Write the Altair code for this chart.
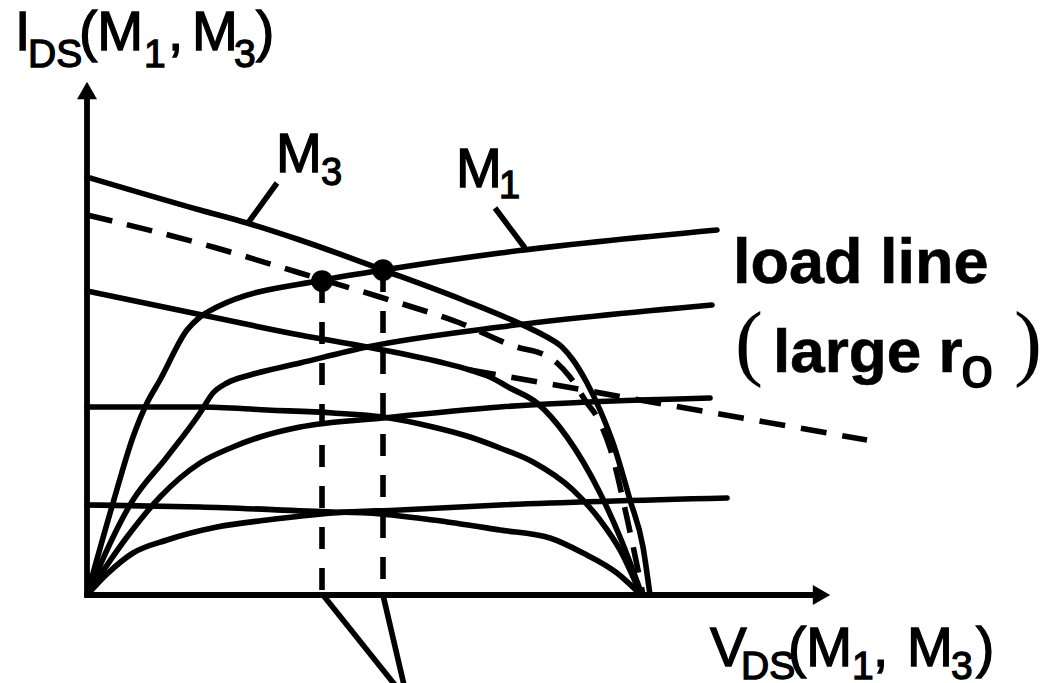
import altair as alt
import pandas as pd

# ---- I-V characteristics (V_DS to the right, I_DS upward, origin at the axes corner)
# M1 (driver) curves: rise from the origin, then saturate with a slight upward slope
m1_a_v = [0, 26, 46, 60, 73, 100, 113, 130, 236, 296, 413, 630]
m1_a_i = [0, 92, 158, 192, 215, 265, 278, 288, 315, 325, 342, 365]
m1_b_v = [0, 46, 80, 113, 126, 140, 163, 213, 280, 413, 625]
m1_b_i = [0, 95, 138, 182, 202, 212, 220, 232, 248, 268, 290]
m1_c_v = [0, 40, 73, 113, 146, 173, 213, 296, 413, 623]
m1_c_i = [0, 58, 98, 132, 148, 158, 168, 177, 188, 197]
m1_d_v = [0, 20, 46, 80, 130, 180, 246, 313, 413, 640]
m1_d_i = [0, 21, 42, 55, 68, 75, 82, 85, 90, 97]

# M3 (load) curves: fall slowly from the I axis, then drop to the supply voltage
m3_a_v = [0, 113, 160, 213, 296, 376, 440, 460, 475, 486, 500, 513, 526, 543, 556, 563]
m3_a_i = [418, 385, 372, 355, 325, 295, 268, 258, 248, 235, 212, 185, 152, 95, 48, 0]
m3_b_v = [0, 120, 213, 280, 353, 383, 403, 423, 450, 480, 513, 533, 555]
m3_b_i = [304, 279, 260, 248, 233, 225, 218, 207, 192, 158, 102, 58, 0]
m3_c_v = [0, 113, 180, 246, 296, 346, 383, 413, 446, 486, 513, 533, 554]
m3_c_i = [188, 188, 185, 182, 178, 168, 158, 147, 133, 105, 75, 45, 0]
m3_d_v = [0, 113, 246, 280, 346, 413, 463, 496, 530, 554]
m3_d_i = [90, 88, 83, 82, 75, 65, 57, 42, 22, 0]

# load line (dashed)
load_v = [0, 126, 213, 293, 373, 433, 453, 470, 483, 500, 510, 523, 540, 556]
load_i = [380, 348, 322, 298, 272, 247, 242, 232, 218, 192, 178, 147, 77, 0]
# large-r_o load line (dashed, straight)
large_ro_v = [383, 780]
large_ro_i = [225, 155]

# operating points
op_v = [235, 296]
op_i = [314, 325]

# axis extents
v_axis_end = 727
v_arrow_tip = 743
i_axis_end = 500
i_arrow_tip = 513

x_scale = alt.Scale(domain=[-87, 959], nice=False, zero=False)
y_scale = alt.Scale(domain=[-88, 595], nice=False, zero=False)


def X(field="v"):
    return alt.X(f"{field}:Q", scale=x_scale, axis=None)


def Y(field="i"):
    return alt.Y(f"{field}:Q", scale=y_scale, axis=None)


def curves_frame(curves):
    rows = []
    for name, vs, is_ in curves:
        for k, (v, i) in enumerate(zip(vs, is_)):
            rows.append({"curve": name, "k": k, "v": v, "i": i})
    return pd.DataFrame(rows)


solid = curves_frame([
    ("M1a", m1_a_v, m1_a_i), ("M1b", m1_b_v, m1_b_i),
    ("M1c", m1_c_v, m1_c_i), ("M1d", m1_d_v, m1_d_i),
    ("M3a", m3_a_v, m3_a_i), ("M3b", m3_b_v, m3_b_i),
    ("M3c", m3_c_v, m3_c_i), ("M3d", m3_d_v, m3_d_i),
])

ink = "#000000"
lw = 5.6

curve_layer = alt.Chart(solid).mark_line(
    color=ink, strokeWidth=lw, interpolate="monotone", strokeJoin="round", strokeCap="round"
).encode(x=X(), y=Y(), detail="curve:N", order="k:Q")

load_df = curves_frame([("load", load_v, load_i)])
load_layer = alt.Chart(load_df).mark_line(
    color=ink, strokeWidth=lw, interpolate="monotone", strokeDash=[26, 15]
).encode(x=X(), y=Y(), detail="curve:N", order="k:Q")

ro_df = curves_frame([("ro", large_ro_v, large_ro_i)])
ro_layer = alt.Chart(ro_df).mark_line(
    color=ink, strokeWidth=lw, strokeDash=[26, 16]
).encode(x=X(), y=Y(), order="k:Q")

# straight segments: axes, label pointers, leaders below the V axis
segs = pd.DataFrame([
    {"v": 0, "i": 0, "v2": 0, "i2": i_axis_end},
    {"v": -2.8, "i": 0, "v2": v_axis_end, "i2": 0},
])
axes_layer = alt.Chart(segs).mark_rule(color=ink, strokeWidth=5.8).encode(
    x=X(), y=Y(), x2="v2:Q", y2="i2:Q")

pointers = pd.DataFrame([
    {"v": 161, "i": 372, "v2": 190, "i2": 412},
    {"v": 438, "i": 347, "v2": 408, "i2": 387},
    {"v": 236, "i": 0, "v2": 308, "i2": -90},
    {"v": 296, "i": 0, "v2": 317, "i2": -90},
])
pointer_layer = alt.Chart(pointers).mark_rule(color=ink, strokeWidth=lw).encode(
    x=X(), y=Y(), x2="v2:Q", y2="i2:Q")

# projections of the operating points onto the V axis
proj = pd.DataFrame({"v": op_v, "i": op_i, "i0": [0, 0]})
proj_layer = alt.Chart(proj).mark_rule(
    color=ink, strokeWidth=lw, strokeDash=[22, 19]
).encode(x=X(), y=Y(), y2="i0:Q")

dots = pd.DataFrame({"v": op_v, "i": op_i})
dot_layer = alt.Chart(dots).mark_point(
    filled=True, color=ink, size=470, opacity=1, shape="circle"
).encode(x=X(), y=Y())

arrow_up = alt.Chart(pd.DataFrame({"v": [0], "i": [i_arrow_tip - 8.5]})).mark_point(
    filled=True, color=ink, size=400, opacity=1, shape="triangle-up"
).encode(x=X(), y=Y())
arrow_right = alt.Chart(pd.DataFrame({"v": [v_arrow_tip - 8.5], "i": [0]})).mark_point(
    filled=True, color=ink, size=400, opacity=1, shape="triangle-right"
).encode(x=X(), y=Y())

# ---- text
labels = pd.DataFrame([
    # I_DS(M1, M3)
    {"v": -72, "i": 545, "t": "I", "s": 55, "w": "normal"},
    {"v": -59, "i": 528, "t": "DS", "s": 39, "w": "normal"},
    {"v": -8, "i": 545, "t": "(M", "s": 55, "w": "normal"},
    {"v": 57, "i": 528, "t": "1", "s": 39, "w": "normal"},
    {"v": 81, "i": 545, "t": ",", "s": 55, "w": "normal"},
    {"v": 105, "i": 545, "t": "M", "s": 55, "w": "normal"},
    {"v": 147, "i": 528, "t": "3", "s": 39, "w": "normal"},
    {"v": 169, "i": 545, "t": ")", "s": 55, "w": "normal"},
    # V_DS(M1, M3)
    {"v": 623, "i": -71, "t": "V", "s": 55, "w": "normal"},
    {"v": 654, "i": -84, "t": "DS", "s": 39, "w": "normal"},
    {"v": 701, "i": -71, "t": "(M", "s": 55, "w": "normal"},
    {"v": 765, "i": -84, "t": "1", "s": 39, "w": "normal"},
    {"v": 786, "i": -71, "t": ",", "s": 55, "w": "normal"},
    {"v": 820, "i": -71, "t": "M", "s": 55, "w": "normal"},
    {"v": 864, "i": -84, "t": "3", "s": 39, "w": "normal"},
    {"v": 889, "i": -71, "t": ")", "s": 55, "w": "normal"},
    # curve names
    {"v": 189, "i": 423, "t": "M", "s": 55, "w": "normal"},
    {"v": 234, "i": 410, "t": "3", "s": 38, "w": "normal"},
    {"v": 369, "i": 408, "t": "M", "s": 55, "w": "normal"},
    {"v": 412, "i": 397, "t": "1", "s": 38, "w": "normal"},
    # load line (large r_o)
    {"v": 646, "i": 312, "t": "load line", "s": 63, "w": "bold"},
    {"v": 686, "i": 223, "t": "large r", "s": 62, "w": "bold"},
    {"v": 874, "i": 208, "t": "o", "s": 58, "w": "normal"},
])

parens = pd.DataFrame([
    {"v": 648, "i": 225, "t": "("},
    {"v": 927, "i": 225, "t": ")"},
])

text_layers = []
for (s, w), grp in labels.groupby(["s", "w"]):
    text_layers.append(
        alt.Chart(grp).mark_text(
            align="left", baseline="alphabetic", font="Liberation Sans",
            fontSize=float(s), fontWeight=w, color=ink,
            stroke=ink, strokeWidth=1.3 if w == "normal" else 0.6,
        ).encode(x=X(), y=Y(), text="t:N")
    )

paren_layer = alt.Chart(parens).mark_text(
    align="left", baseline="alphabetic", font="Liberation Serif",
    fontSize=84, color=ink
).encode(x=X(), y=Y(), text="t:N")

chart = alt.layer(
    axes_layer, arrow_up, arrow_right,
    curve_layer, load_layer, ro_layer,
    proj_layer, pointer_layer, dot_layer,
    *text_layers, paren_layer
).properties(
    width=1046, height=683, padding=0,
    autosize=alt.AutoSizeParams(type="none"),
    background="white",
).configure_view(stroke=None)

chart.save("out.html", embed_options={"renderer": "svg", "actions": False})
